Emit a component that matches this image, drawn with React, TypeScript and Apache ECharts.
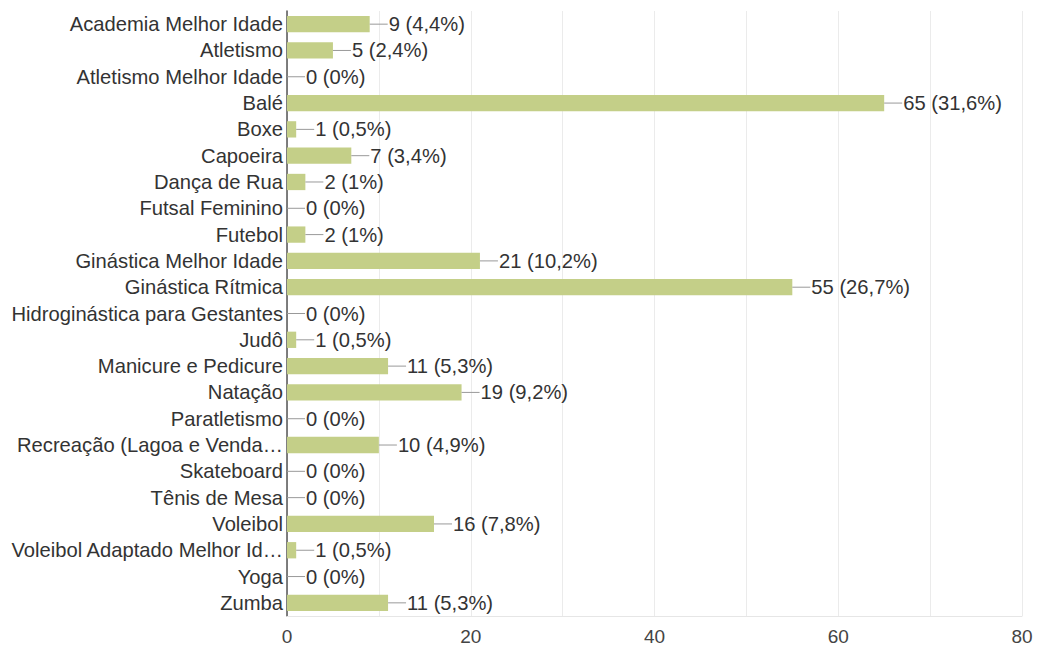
import React, { useEffect, useRef } from "react";
import * as echarts from "echarts";

const categories = [
  "Academia Melhor Idade",
  "Atletismo",
  "Atletismo Melhor Idade",
  "Balé",
  "Boxe",
  "Capoeira",
  "Dança de Rua",
  "Futsal Feminino",
  "Futebol",
  "Ginástica Melhor Idade",
  "Ginástica Rítmica",
  "Hidroginástica para Gestantes",
  "Judô",
  "Manicure e Pedicure",
  "Natação",
  "Paratletismo",
  "Recreação (Lagoa e Venda…",
  "Skateboard",
  "Tênis de Mesa",
  "Voleibol",
  "Voleibol Adaptado Melhor Id…",
  "Yoga",
  "Zumba",
];

const counts = [9, 5, 0, 65, 1, 7, 2, 0, 2, 21, 55, 0, 1, 11, 19, 0, 10, 0, 0, 16, 1, 0, 11];

const percents = [
  "4,4%", "2,4%", "0%", "31,6%", "0,5%", "3,4%", "1%", "0%", "1%", "10,2%", "26,7%", "0%",
  "0,5%", "5,3%", "9,2%", "0%", "4,9%", "0%", "0%", "7,8%", "0,5%", "0%", "5,3%",
];

const xTicks = [0, 20, 40, 60, 80];

const FONT = "'Liberation Sans', Arial, sans-serif";

export default function App() {
  const ref = useRef<HTMLDivElement>(null);
  useEffect(() => {
    if (!ref.current) return;
    const chart = echarts.init(ref.current, undefined, { renderer: "svg" });
    chart.setOption({
      animation: false,
      backgroundColor: "#ffffff",
      grid: { left: 287, right: 15, top: 11, bottom: 32, containLabel: false },
      xAxis: {
        type: "value",
        min: 0,
        max: 80,
        interval: 10,
        axisLine: { show: true, lineStyle: { color: "#e6e6e6", width: 1 } },
        axisTick: { show: false },
        splitLine: { show: true, lineStyle: { color: "#ebebeb", width: 1 } },
        axisLabel: {
          margin: 11,
          color: "#444",
          fontSize: 19,
          fontFamily: FONT,
          formatter: (v: number) => (xTicks.indexOf(v) >= 0 ? String(v) : ""),
        },
      },
      yAxis: {
        type: "category",
        data: categories,
        inverse: true,
        axisLine: { show: true, lineStyle: { color: "#555", width: 1.5 } },
        axisTick: { show: false },
        splitLine: { show: false },
        axisLabel: {
          margin: 4,
          color: "#333",
          fontSize: 20.2,
          fontFamily: FONT,
          interval: 0,
        },
      },
      series: [
        {
          type: "bar",
          data: counts,
          barCategoryGap: "38%",
          itemStyle: { color: "#c4cf88" },
          label: {
            show: true,
            position: "right",
            distance: 0,
            formatter: (p: any) => `{l|}{t|${counts[p.dataIndex]} (${percents[p.dataIndex]})}`,
            rich: {
              l: { width: 18, height: 1, backgroundColor: "#999999" },
              t: { color: "#333", fontSize: 20.2, fontFamily: FONT, padding: [0, 0, 0, 1] },
            },
          },
        },
      ],
    });
    return () => chart.dispose();
  }, []);
  return (
    <div
      ref={ref}
      style={{ position: "fixed", left: 0, top: 0, width: 1037, height: 648 }}
    />
  );
}
